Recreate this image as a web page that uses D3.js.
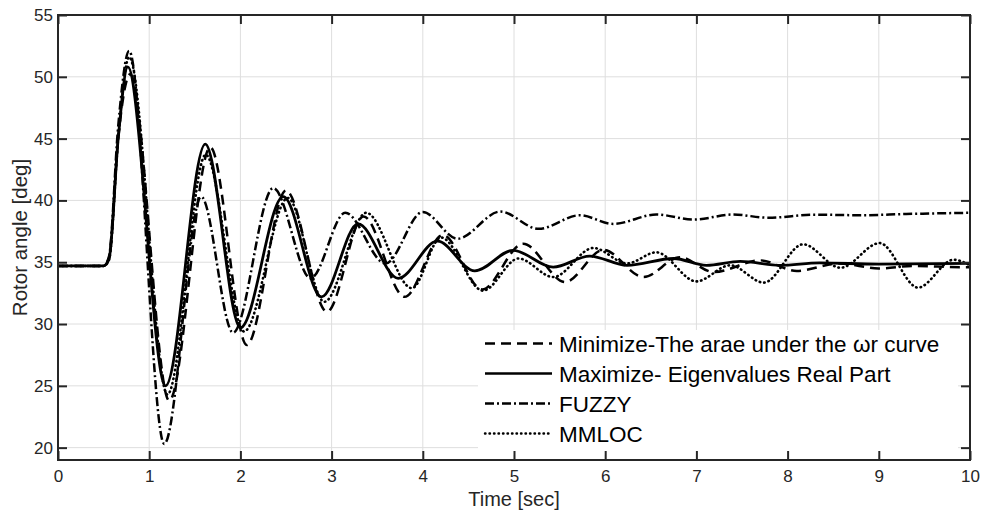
<!DOCTYPE html>
<html>
<head>
<meta charset="utf-8">
<script src="https://cdn.jsdelivr.net/npm/d3@7"></script>
<style>
  body { margin: 0; background: #fff; }
  svg { display: block; font-family: "Liberation Sans", Arial, sans-serif; }
</style>
</head>
<body>
<div id="chart"></div>
<script>
// Values (time in sec, rotor angle in deg)
const minimizeTime  = [0, 0.5, 0.56, 0.66, 0.79, 1.22, 1.67, 2.07, 2.5, 2.95, 3.35, 3.8, 4.22, 4.65, 5.1, 5.56, 5.98, 6.42, 6.82, 7.19, 7.7, 8.1, 8.57, 9.0, 9.38, 9.89, 10];
const minimizeAngle = [34.7, 34.7, 35.3, 45.0, 50.2, 23.8, 44.3, 28.3, 40.8, 31.0, 38.7, 32.2, 37.2, 32.8, 36.5, 33.4, 36.0, 33.8, 35.4, 34.2, 35.15, 34.3, 34.9, 34.5, 34.7, 34.6, 34.6];

const maximizeTime  = [0, 0.5, 0.56, 0.66, 0.765, 1.18, 1.615, 2.0, 2.47, 2.89, 3.29, 3.73, 4.16, 4.57, 4.99, 5.43, 5.83, 6.24, 6.75, 7.11, 7.48, 7.92, 8.35, 9.0, 10];
const maximizeAngle = [34.7, 34.7, 35.3, 45.0, 50.8, 25.0, 44.55, 29.7, 40.3, 32.2, 38.1, 33.7, 36.7, 34.3, 35.96, 34.6, 35.5, 34.75, 35.3, 34.75, 35.07, 34.75, 34.94, 34.85, 34.9];

const fuzzyTime  = [0, 0.5, 0.56, 0.66, 0.78, 1.165, 1.57, 1.92, 2.36, 2.77, 3.15, 3.59, 4.0, 4.38, 4.85, 5.27, 5.72, 6.09, 6.56, 6.97, 7.4, 7.79, 8.3, 8.8, 9.3, 10];
const fuzzyAngle = [34.7, 34.7, 35.5, 46.0, 52.1, 20.3, 40.3, 29.3, 41.0, 33.7, 39.0, 34.9, 39.07, 36.9, 39.1, 37.7, 38.8, 38.1, 38.86, 38.45, 38.86, 38.6, 38.85, 38.8, 38.9, 39.0];

const mmlocTime  = [0, 0.5, 0.56, 0.66, 0.78, 1.2, 1.62, 2.04, 2.52, 2.92, 3.38, 3.88, 4.2, 4.66, 5.05, 5.43, 5.87, 6.24, 6.56, 7.0, 7.37, 7.74, 8.17, 8.58, 9.01, 9.43, 9.82, 10];
const mmlocAngle = [34.7, 34.7, 35.2, 45.0, 51.6, 24.3, 43.7, 29.4, 40.2, 31.8, 39.0, 32.9, 37.0, 32.7, 35.3, 33.8, 36.15, 34.9, 35.8, 33.45, 34.75, 33.35, 36.45, 34.55, 36.55, 32.95, 35.2, 34.75];

const legendLabels = [
    "Minimize-The arae under the \u03c9r curve",
    "Maximize- Eigenvalues Real Part",
    "FUZZY",
    "MMLOC"
];

const xTicks = [0, 1, 2, 3, 4, 5, 6, 7, 8, 9, 10];
const yTicks = [20, 25, 30, 35, 40, 45, 50, 55];

// Line styles, same order as the legend
const series = [
    { t: minimizeTime, v: minimizeAngle, dash: "10,6", cap: "butt", width: 2.5 },
    { t: maximizeTime, v: maximizeAngle, dash: null, cap: "butt", width: 2.8 },
    { t: fuzzyTime, v: fuzzyAngle, dash: "9,3,2,3", cap: "butt", width: 2.5 },
    { t: mmlocTime, v: mmlocAngle, dash: "0.5,4", cap: "round", width: 2.6 }
];

const W = 982, H = 513;
const margin = { top: 15, right: 12, bottom: 53, left: 58 };
const width = W - margin.left - margin.right;
const height = H - margin.top - margin.bottom;
const axisColor = "#262626";

const svg = d3.select("#chart")
    .append("svg")
    .attr("width", W)
    .attr("height", H);

const g = svg.append("g")
    .attr("transform", `translate(${margin.left},${margin.top})`);

const x = d3.scaleLinear().domain([0, 10]).range([0, width]);
const y = d3.scaleLinear().domain([19, 55]).range([height, 0]);

// Grid
g.append("g")
    .selectAll("line")
    .data(xTicks.slice(1, -1))
    .enter()
    .append("line")
    .attr("x1", d => x(d)).attr("x2", d => x(d))
    .attr("y1", 0).attr("y2", height)
    .attr("stroke", "#dedede")
    .attr("stroke-width", 1);

g.append("g")
    .selectAll("line")
    .data(yTicks.slice(0, -1))
    .enter()
    .append("line")
    .attr("x1", 0).attr("x2", width)
    .attr("y1", d => y(d)).attr("y2", d => y(d))
    .attr("stroke", "#dedede")
    .attr("stroke-width", 1);

// Clip lines to the plot box
g.append("clipPath").attr("id", "clip")
    .append("rect").attr("width", width).attr("height", height);

const line = d3.line()
    .x(d => x(d[0]))
    .y(d => y(d[1]))
    .curve(d3.curveMonotoneX);

g.append("g")
    .attr("clip-path", "url(#clip)")
    .selectAll("path")
    .data(series)
    .enter()
    .append("path")
    .attr("d", s => line(s.t.map((t, i) => [t, s.v[i]])))
    .attr("fill", "none")
    .attr("stroke", "#000")
    .attr("stroke-width", s => s.width)
    .attr("stroke-linecap", s => s.cap)
    .attr("stroke-dasharray", s => s.dash);

// Legend (white background, no border)
const legend = g.append("g");
legend.append("rect")
    .attr("x", 420).attr("y", 315)
    .attr("width", 480).attr("height", 125)
    .attr("fill", "#fff");

const rows = legend.selectAll(".row")
    .data(series)
    .enter()
    .append("g")
    .attr("class", "row")
    .attr("transform", (d, i) => `translate(0,${328.5 + i * 30})`);

rows.append("line")
    .attr("x1", 427).attr("x2", 494)
    .attr("stroke", "#000")
    .attr("stroke-width", s => Math.min(s.width, 2.4))
    .attr("stroke-linecap", s => s.cap)
    .attr("stroke-dasharray", s => s.dash);

rows.append("text")
    .attr("x", 501)
    .attr("dy", "0.36em")
    .style("font-size", "22.5px")
    .attr("fill", "#000")
    .text((d, i) => legendLabels[i]);

// Axes: ticks pointing inward on all four sides
const xAxis = g.append("g")
    .attr("transform", `translate(0,${height})`)
    .call(d3.axisBottom(x).tickValues(xTicks).tickSizeInner(-9).tickSizeOuter(0).tickPadding(10));
const xTop = g.append("g")
    .call(d3.axisTop(x).tickValues(xTicks).tickSizeInner(-9).tickSizeOuter(0).tickFormat(""));
const yAxis = g.append("g")
    .call(d3.axisLeft(y).tickValues(yTicks).tickSizeInner(-9).tickSizeOuter(0).tickPadding(5));
const yRight = g.append("g")
    .attr("transform", `translate(${width},0)`)
    .call(d3.axisRight(y).tickValues(yTicks).tickSizeInner(-9).tickSizeOuter(0).tickFormat(""));

[xAxis, xTop, yAxis, yRight].forEach(a => {
    a.select(".domain").remove();
    a.selectAll(".tick line").attr("stroke", axisColor).attr("stroke-width", 2);
    a.selectAll(".tick text")
        .attr("fill", axisColor)
        .style("font-size", "17px")
        .style("font-family", "'Liberation Sans', Arial, sans-serif");
});

// Box
g.append("rect")
    .attr("width", width).attr("height", height)
    .attr("fill", "none")
    .attr("stroke", axisColor)
    .attr("stroke-width", 2);

// Axis titles
g.append("text")
    .attr("x", width / 2)
    .attr("y", height + 46)
    .attr("text-anchor", "middle")
    .attr("fill", axisColor)
    .style("font-size", "20px")
    .text("Time [sec]");

g.append("text")
    .attr("transform", "rotate(-90)")
    .attr("x", -height / 2)
    .attr("y", -31)
    .attr("text-anchor", "middle")
    .attr("fill", axisColor)
    .style("font-size", "20.5px")
    .text("Rotor angle [deg]");
</script>
</body>
</html>
